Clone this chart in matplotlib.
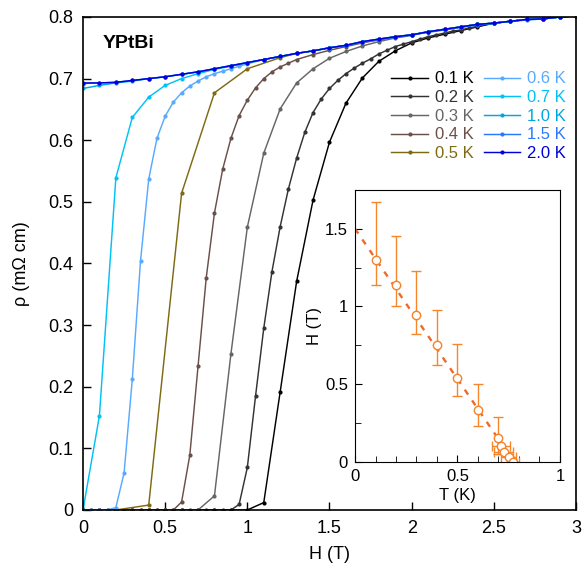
import matplotlib
matplotlib.use("Agg")
import matplotlib.pyplot as plt
import numpy as np

plt.rcParams["font.family"] = ["Liberation Sans", "DejaVu Sans"]

# normal-state curve (2.0 K), 0.1 T steps
H_n = [0.0, 0.1, 0.2, 0.3, 0.4, 0.5, 0.6, 0.7, 0.8, 0.9, 1.0, 1.1, 1.2, 1.3, 1.4, 1.5,
       1.6, 1.7, 1.8, 1.9, 2.0, 2.1, 2.2, 2.3, 2.4, 2.5, 2.6, 2.7, 2.8, 2.9, 3.0]
R_n = [0.693, 0.693, 0.694, 0.697, 0.700, 0.703, 0.707, 0.711, 0.716, 0.721, 0.726,
       0.731, 0.736, 0.741, 0.745, 0.750, 0.754, 0.760, 0.764, 0.768, 0.771, 0.776,
       0.780, 0.784, 0.788, 0.790, 0.793, 0.796, 0.797, 0.800, 0.802]
R_15 = [0.692, 0.693, 0.694, 0.697, 0.700, 0.703, 0.707, 0.711, 0.716, 0.721, 0.726,
        0.731, 0.736, 0.741, 0.745, 0.750, 0.754, 0.759, 0.763, 0.767, 0.771, 0.775,
        0.779, 0.783, 0.787, 0.790, 0.793, 0.795, 0.797, 0.800, 0.802]

# transition parts of the low-temperature curves
H_01 = [0.0, 0.1, 0.2, 0.3, 0.4, 0.5, 0.6, 0.7, 0.8, 0.9, 1.0, 1.1, 1.2, 1.3, 1.4, 1.5,
        1.6, 1.7, 1.8, 1.9, 2.0, 2.1, 2.2, 2.3, 2.4]
R_01 = [0, 0, 0, 0, 0, 0, 0, 0, 0, 0, 0, 0.012, 0.192, 0.371, 0.503, 0.597,
        0.660, 0.701, 0.728, 0.745, 0.758, 0.766, 0.772, 0.778, 0.784]

H_02 = [0.0, 0.05, 0.1, 0.15, 0.2, 0.25, 0.3, 0.35, 0.4, 0.45, 0.5, 0.55, 0.6, 0.65,
        0.7, 0.75, 0.8, 0.85, 0.9, 0.95, 1.0, 1.05, 1.1, 1.15, 1.2, 1.25, 1.3, 1.35,
        1.4, 1.45, 1.5, 1.55, 1.6, 1.65, 1.7, 1.75, 1.8, 1.85, 1.9, 1.95, 2.0, 2.05,
        2.1, 2.15, 2.2, 2.25, 2.3, 2.35, 2.4]
R_02 = [0, 0, 0, 0, 0, 0, 0, 0, 0, 0, 0, 0, 0, 0, 0, 0, 0, 0, 0, 0.009, 0.069, 0.185,
        0.295, 0.387, 0.460, 0.521, 0.571, 0.613, 0.645, 0.667, 0.684, 0.697, 0.708,
        0.717, 0.725, 0.732, 0.740, 0.746, 0.752, 0.756, 0.760, 0.764, 0.768, 0.771,
        0.774, 0.777, 0.779, 0.782, 0.785]

H_03 = [0.0, 0.1, 0.2, 0.3, 0.4, 0.5, 0.6, 0.7, 0.8, 0.9, 1.0, 1.1, 1.2, 1.3, 1.4, 1.5,
        1.6, 1.7, 1.8, 1.9, 2.0]
R_03 = [0, 0, 0, 0, 0, 0, 0, 0, 0.023, 0.253, 0.459, 0.579, 0.651, 0.693, 0.716,
        0.733, 0.744, 0.753, 0.760, 0.766, 0.770]

H_04 = [0.0, 0.05, 0.1, 0.15, 0.2, 0.25, 0.3, 0.35, 0.4, 0.45, 0.5, 0.55, 0.6, 0.65,
        0.7, 0.75, 0.8, 0.85, 0.9, 0.95, 1.0, 1.05, 1.1, 1.15, 1.2, 1.25, 1.3, 1.4,
        1.5, 1.6, 1.7, 1.8]
R_04 = [0, 0, 0, 0, 0, 0, 0, 0, 0, 0, 0, 0, 0.013, 0.089, 0.233, 0.377, 0.482, 0.553,
        0.603, 0.640, 0.665, 0.685, 0.700, 0.711, 0.719, 0.725, 0.731, 0.739, 0.746,
        0.752, 0.758, 0.763]

H_05 = [0.0, 0.2, 0.4, 0.6, 0.8, 1.0, 1.2]
R_05 = [0, 0, 0.008, 0.514, 0.677, 0.716, 0.734]

H_06 = [0.0, 0.05, 0.1, 0.15, 0.2, 0.25, 0.3, 0.35, 0.4, 0.45, 0.5, 0.55, 0.6, 0.65,
        0.7, 0.75, 0.8, 0.85, 0.9, 0.95, 1.0]
R_06 = [0, 0, 0, 0, 0.004, 0.060, 0.212, 0.404, 0.537, 0.603, 0.639, 0.662, 0.677,
        0.688, 0.696, 0.703, 0.708, 0.712, 0.716, 0.720, 0.724]

H_07 = [0.0, 0.1, 0.2, 0.3, 0.4, 0.5, 0.6, 0.7, 0.8, 0.9]
R_07 = [0, 0.153, 0.539, 0.637, 0.670, 0.689, 0.700, 0.708, 0.715, 0.720]

H_10 = [0.0, 0.1, 0.2, 0.3]
R_10 = [0.684, 0.689, 0.693, 0.696]

labels = ["0.1 K", "0.2 K", "0.3 K", "0.4 K", "0.5 K",
          "0.6 K", "0.7 K", "1.0 K", "1.5 K", "2.0 K"]
colors = ["#000000", "#333333", "#666666", "#6b5049", "#7f6a14",
          "#58aaff", "#00c2f5", "#00a6e0", "#2a78ff", "#0000d8"]

# inset: phase diagram
T_c = [0.1, 0.2, 0.3, 0.4, 0.5, 0.6, 0.70, 0.712, 0.725, 0.75, 0.77]
H_c = [1.30, 1.14, 0.945, 0.75, 0.54, 0.33, 0.15, 0.10, 0.065, 0.03, 0.0]
H_up = [0.37, 0.31, 0.28, 0.225, 0.22, 0.17, 0.14, 0, 0, 0, 0]
H_lo = [0.165, 0.14, 0.125, 0.13, 0.12, 0.10, 0.10, 0.05, 0, 0, 0]
T_err = [0, 0, 0, 0, 0, 0, 0, 0.045, 0.045, 0.035, 0.03]
fit_T = [0.0, 0.775]
fit_H = [1.5, 0.0]


def with_tail(h, r):
    hh = list(h) + [x for x in H_n if x > h[-1] + 1e-6]
    rr = list(r) + [y for x, y in zip(H_n, R_n) if x > h[-1] + 1e-6]
    return hh, rr


curves = [with_tail(H_01, R_01), with_tail(H_02, R_02), with_tail(H_03, R_03),
          with_tail(H_04, R_04), with_tail(H_05, R_05), with_tail(H_06, R_06),
          with_tail(H_07, R_07), with_tail(H_10, R_10), (H_n, R_15), (H_n, R_n)]

fig = plt.figure(figsize=(5.82, 5.72), dpi=100)
ax = fig.add_axes([0.1426, 0.1084, 0.8471, 0.8619])

for (h, r), lab, c in zip(curves, labels, colors):
    ax.plot(h, r, color=c, lw=1.05, marker="o", ms=2.0, label=lab)

ax.set_xlim(0, 3)
ax.set_ylim(0, 0.8)
ax.set_xticks([0, 0.5, 1, 1.5, 2, 2.5, 3])
ax.set_xticklabels(["0", "0.5", "1", "1.5", "2", "2.5", "3"])
ax.set_yticks(np.arange(0, 0.81, 0.1))
ax.set_yticklabels(["0", "0.1", "0.2", "0.3", "0.4", "0.5", "0.6", "0.7", "0.8"])
ax.tick_params(direction="in", length=6, width=1, labelsize=13, pad=7)
for s in ax.spines.values():
    s.set_linewidth(1.2)
ax.set_xlabel("H (T)", fontsize=13, labelpad=7)
ax.set_ylabel("ρ (mΩ cm)", fontsize=13, labelpad=13)
ax.text(0.04, 0.947, "YPtBi", transform=ax.transAxes, fontsize=14,
        fontweight="bold", va="center")

leg = ax.legend(ncol=2, frameon=False, fontsize=12, loc="upper left",
                bbox_to_anchor=(0.595, 0.92), handlelength=2.2,
                handletextpad=0.4, columnspacing=0.6, labelspacing=0.22,
                labelcolor="linecolor")

# inset
ins = fig.add_axes([0.61, 0.193, 0.352, 0.475])
ins.plot(fit_T, fit_H, color="#ee6a2a", lw=1.7, ls=(0, (2.5, 3)))
ins.errorbar(T_c, H_c, yerr=[H_lo, H_up], xerr=T_err, fmt="o", ms=6,
             mfc="white", mec="#f5822a", mew=1.0, ecolor="#f5862a",
             elinewidth=1.0, capsize=3.5, capthick=1.0)
ins.set_xlim(0, 1)
ins.set_ylim(0, 1.75)
ins.set_xticks([0, 0.5, 1])
ins.set_xticklabels(["0", "0.5", "1"])
ins.set_xticks(np.arange(0.1, 1.0, 0.1), minor=True)
ins.set_yticks([0, 0.5, 1, 1.5])
ins.set_yticklabels(["0", "0.5", "1", "1.5"])
ins.set_yticks([0.25, 0.75, 1.25], minor=True)
ins.tick_params(which="both", direction="in", labelsize=12, pad=5)
ins.tick_params(which="major", length=5)
ins.tick_params(which="minor", length=4)
ins.set_xlabel("T (K)", fontsize=12, labelpad=3)
ins.set_ylabel("H (T)", fontsize=12, labelpad=2)

fig.savefig("out.png", dpi=100)
